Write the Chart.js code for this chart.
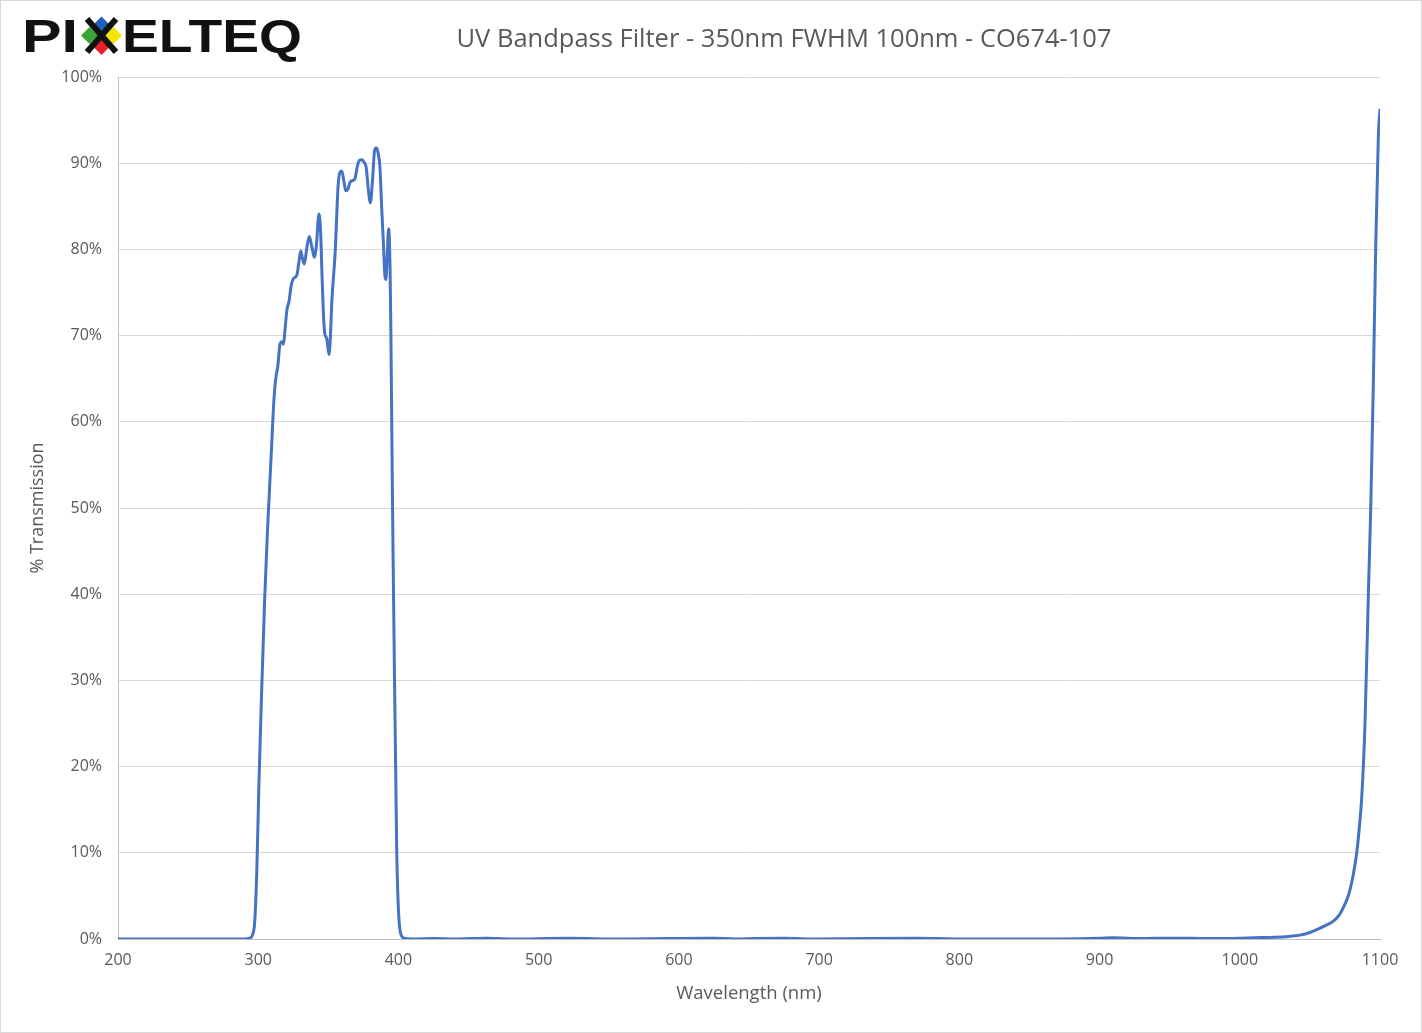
<!DOCTYPE html>
<html>
<head>
<meta charset="utf-8">
<title>UV Bandpass Filter - 350nm FWHM 100nm - CO674-107</title>
<script src="https://cdn.jsdelivr.net/npm/chart.js@4/dist/chart.umd.min.js"></script>
<style>
  html, body { margin: 0; padding: 0; background: #fff; }
  canvas { display: block; }
</style>
</head>
<body>
<canvas id="myChart" width="1422" height="1033"></canvas>
<script>
/* globals Chart:false */

// wavelength (nm) and % transmission
const wavelengths = [
  200, 250, 290, 294, 296, 297.5, 299, 300.5, 302.5, 304.5, 306.5, 308, 309.5, 311, 312.5,
  314, 315.5, 317, 318, 319, 320.5, 322, 323.5, 325, 327.5, 329, 330.3, 331.5, 332.9, 334.5,
  336.4, 338, 340, 341.5, 343.3, 344.5, 345.5, 346.5, 347.5, 348.8, 350.5, 351.5, 352.5, 354,
  355, 356, 357, 358.5, 359.6, 361, 362.5, 364, 365.5, 367.5, 369, 370.5, 372, 374, 375.5,
  377, 378.5, 380, 381.5, 383, 384.2, 385.5, 386.8, 388, 389.2, 390.3, 391, 391.8, 393, 394,
  394.5, 395.1, 395.8, 396.5, 397.2, 398, 398.8, 399.6, 400.5, 401.8, 404, 410, 425, 440,
  463, 480, 520, 560, 620, 625, 640, 655, 675, 700, 770, 800, 850, 900, 910, 930, 950, 980,
  1000, 1010, 1025, 1035, 1043, 1050, 1055, 1061, 1067, 1071, 1074, 1076.5, 1078.6, 1081,
  1083.4, 1085, 1087, 1089.3, 1091.7, 1093.4, 1095.2, 1096.9, 1098.8, 1100
];
const transmission = [
  0, 0, 0, 0.1, 0.5, 2, 8, 18, 29, 39, 47, 52, 57, 62, 65,
  66.5, 69, 69.3, 69, 70.5, 73, 74, 75.8, 76.6, 77, 78.5, 79.8, 79, 78.3, 80,
  81.5, 80.5, 79.1, 80.5, 84.1, 82, 77, 72.5, 70.2, 69.7, 67.8, 70, 74, 77.5,
  80, 84, 87.5, 89, 89.1, 88, 86.8, 87, 87.8, 88, 88.2, 89.5, 90.3, 90.4, 90.1,
  89.5, 87, 85.4, 88, 91.5, 91.8, 91.2, 89.5, 85, 81, 77, 76.5, 78.5, 82.4, 78,
  72, 62, 50, 40, 30, 20, 10, 5, 2, 0.5, 0.1, 0, 0.05, 0,
  0.1, 0, 0.08, 0, 0.1, 0.1, 0, 0.05, 0.08, 0, 0.1, 0, 0, 0.1, 0.15, 0.05, 0.1, 0.05,
  0.1, 0.15, 0.2, 0.3, 0.45, 0.75, 1.1, 1.55, 2.1, 2.8, 3.7, 4.6, 5.7, 7.5,
  10, 12.5, 16.5, 25, 40, 50, 64, 80, 93, 96.3
];
const xTicks = [200, 300, 400, 500, 600, 700, 800, 900, 1000, 1100];
const yTicks = [0, 10, 20, 30, 40, 50, 60, 70, 80, 90, 100];

const chartTitle = "UV Bandpass Filter - 350nm FWHM 100nm - CO674-107";
const xTitle = "Wavelength (nm)";
const yTitle = "% Transmission";

const points = wavelengths.map((w, i) => ({ x: w, y: transmission[i] }));

// logo, title and outer frame
const decorations = {
  id: "decorations",
  afterDraw(chart) {
    const c = chart.ctx;
    c.save();
    c.strokeStyle = "#d9d9d9";
    c.lineWidth = 1;
    c.strokeRect(0.5, 0.5, chart.width - 1, chart.height - 1);

    c.fillStyle = "#595959";
    c.font = "25.5px 'Open Sans'";
    c.textAlign = "center";
    c.textBaseline = "middle";
    c.fillText(chartTitle, 784, 40);

    // PIXELTEQ logo
    c.fillStyle = "#111";
    c.font = "bold 47px 'Liberation Sans'";
    c.textAlign = "left";
    c.textBaseline = "alphabetic";
    const drawStretched = (txt, x, w) => {
      const m = c.measureText(txt).width;
      c.save();
      c.translate(x, 52);
      c.scale(w / m, 1);
      c.fillText(txt, 0, 0);
      c.restore();
    };
    drawStretched("PI", 22, 56);
    drawStretched("ELTEQ", 122, 180);
    const diamond = (cx, cy, r, col) => {
      c.fillStyle = col;
      c.beginPath();
      c.moveTo(cx, cy - r);
      c.lineTo(cx + r, cy);
      c.lineTo(cx, cy + r);
      c.lineTo(cx - r, cy);
      c.closePath();
      c.fill();
    };
    diamond(101.5, 25, 8.5, "#1f5fbf");
    diamond(89.5, 35.5, 8.5, "#3aa335");
    diamond(113.5, 35.5, 8.5, "#f2e600");
    diamond(101.5, 46.5, 8.5, "#e8202a");
    c.strokeStyle = "#111";
    c.lineWidth = 6;
    c.beginPath();
    c.moveTo(87, 19); c.lineTo(116, 52);
    c.moveTo(116, 19); c.lineTo(87, 52);
    c.stroke();
    c.restore();
  },
};

const ctx = document.getElementById("myChart");
// eslint-disable-next-line no-unused-vars
const myChart = new Chart(ctx, {
  type: "line",
  data: {
    datasets: [
      {
        data: points,
        borderColor: "#4472c4",
        backgroundColor: "transparent",
        borderWidth: 3,
        pointRadius: 0,
        cubicInterpolationMode: "monotone",
        fill: false,
      },
    ],
  },
  options: {
    responsive: false,
    animation: false,
    layout: { padding: { left: 0, top: 77, right: 42, bottom: 24 } },
    plugins: {
      legend: { display: false },
      tooltip: { enabled: false },
      title: { display: false },
    },
    scales: {
      x: {
        type: "linear",
        min: xTicks[0],
        max: xTicks[xTicks.length - 1],
        afterBuildTicks: (s) => { s.ticks = xTicks.map((v) => ({ value: v })); },
        afterFit: (s) => { s.height = 70; },
        grid: { display: false, drawTicks: false },
        border: { color: "#bfbfbf", width: 1 },
        ticks: {
          color: "#595959",
          font: { family: "'Open Sans'", size: 16 },
          padding: 12,
          callback: (v) => String(v),
        },
        title: {
          display: true,
          text: xTitle,
          color: "#595959",
          font: { family: "'Open Sans'", size: 18.5 },
          padding: { top: 0, bottom: 4 },
        },
      },
      y: {
        min: 0,
        max: 100,
        afterBuildTicks: (s) => { s.ticks = yTicks.map((v) => ({ value: v })); },
        afterFit: (s) => { s.width = 118; },
        grid: { color: "#d9d9d9", lineWidth: 1, drawTicks: false },
        border: { color: "#bfbfbf", width: 1 },
        ticks: {
          color: "#595959",
          font: { family: "'Open Sans'", size: 16 },
          padding: 16,
          callback: (v) => v + "%",
        },
        title: {
          display: true,
          text: yTitle,
          color: "#595959",
          font: { family: "'Open Sans'", size: 18 },
          padding: { top: 27, bottom: 0 },
        },
      },
    },
  },
  plugins: [decorations],
});
</script>
</body>
</html>
